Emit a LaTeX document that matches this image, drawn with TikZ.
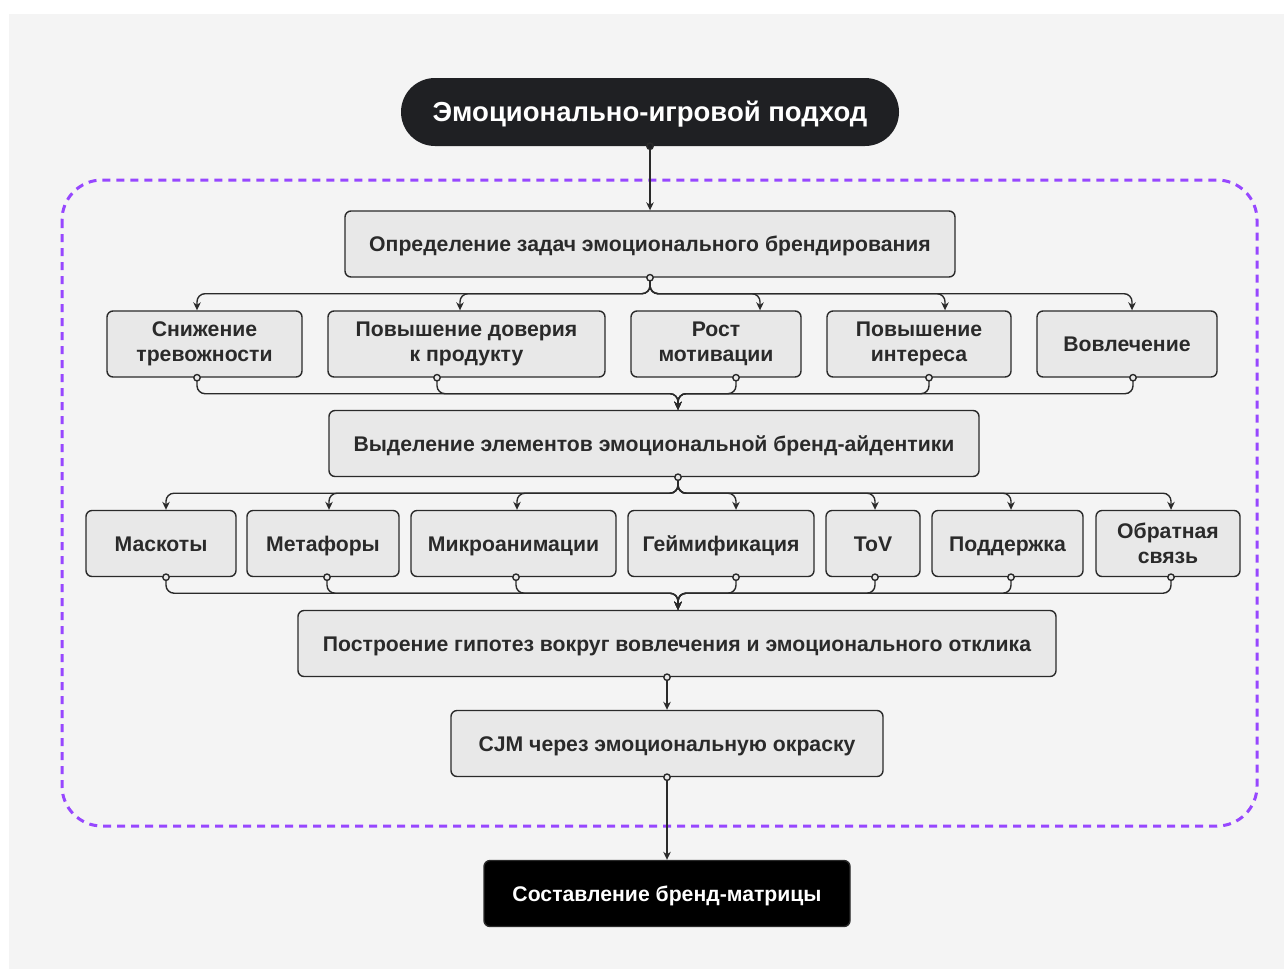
\documentclass[tikz,border=0pt]{standalone}
\usepackage{fontspec}
\setmainfont{Liberation Sans}
\usetikzlibrary{arrows.meta,calc}
\definecolor{bg}{HTML}{F4F4F4}
\definecolor{boxfill}{HTML}{E8E8E8}
\definecolor{ink}{HTML}{2A2A2A}
\definecolor{pill}{HTML}{1F2023}
\definecolor{purp}{HTML}{9747FF}
\begin{document}
\begin{tikzpicture}[x=1pt,y=-1pt,
 box/.style={draw=ink, line width=1.4pt, fill=boxfill, rounded corners=6pt, minimum height=66pt, inner sep=0pt, align=center, font=\bfseries\fontsize{21.2}{25}\selectfont, text=ink},
 one/.style={text height=19.5pt, text depth=4.5pt},
 darkbox/.style={box, one, draw=ink, fill=black, text=white},
 pillbox/.style={fill=pill, rounded corners=34pt, minimum width=498pt, minimum height=68pt, inner sep=0pt, font=\bfseries\fontsize{27.5}{32}\selectfont, text=white, text height=25pt, text depth=6pt},
 conn/.style={draw=ink, line width=1.4pt, rounded corners=8pt, -{Stealth[length=8pt,width=7.5pt,inset=2.5pt]}},
 dot/.style={draw=ink, line width=1.4pt, fill=boxfill},
]
\useasboundingbox (0,0) rectangle (1284,970);
\fill[white] (0,0) rectangle (1284,970);
\fill[bg] (9,14) rectangle (1284,969);
\draw[purp, line width=3pt, dash pattern=on 8pt off 6pt, rounded corners=40pt] (62,180) rectangle (1257,826);

% nodes
\node[pillbox] (top) at (650,112) {Эмоционально-игровой подход};
\node[box, one, minimum width=610pt] (b1) at (650,244) {Определение задач эмоционального брендирования};

\node[box, minimum width=195pt] (r1a) at (204.5,344) {Снижение\\тревожности};
\node[box, minimum width=277pt] (r1b) at (466.5,344) {Повышение доверия\\к продукту};
\node[box, minimum width=170pt] (r1c) at (716,344) {Рост\\мотивации};
\node[box, minimum width=184pt] (r1d) at (919,344) {Повышение\\интереса};
\node[box, one, minimum width=180pt] (r1e) at (1127,344) {Вовлечение};

\node[box, one, minimum width=650pt] (b2) at (654,443.5) {Выделение элементов эмоциональной бренд-айдентики};

\node[box, one, minimum width=150pt] (r2a) at (161,543.5) {Маскоты};
\node[box, one, minimum width=152pt] (r2b) at (323,543.5) {Метафоры};
\node[box, one, minimum width=205pt] (r2c) at (513.5,543.5) {Микроанимации};
\node[box, one, minimum width=186pt] (r2d) at (721,543.5) {Геймификация};
\node[box, one, minimum width=94pt] (r2e) at (873,543.5) {ToV};
\node[box, one, minimum width=151pt] (r2f) at (1007.5,543.5) {Поддержка};
\node[box, minimum width=144pt] (r2g) at (1168,543.5) {Обратная\\связь};

\node[box, one, minimum width=758pt] (b3) at (677,643.5) {Построение гипотез вокруг вовлечения и эмоционального отклика};
\node[box, one, minimum width=432pt] (b4) at (667,743.5) {CJM через эмоциональную окраску};
\node[darkbox, minimum width=366pt] (fin) at (667,893.5) {Составление бренд-матрицы};

% ports
\coordinate (top-o) at (top.south);
\coordinate (b1-o) at (b1.south);
\coordinate (r1a-i) at ([xshift=-7.5pt]r1a.north);
\coordinate (r1b-i) at ([xshift=-6.5pt]r1b.north);
\coordinate (r1c-i) at ([xshift=44pt]r1c.north);
\coordinate (r1d-i) at ([xshift=26pt]r1d.north);
\coordinate (r1e-i) at ([xshift=5pt]r1e.north);
\coordinate (r1a-o) at ([xshift=-7.5pt]r1a.south);
\coordinate (r1b-o) at ([xshift=-29.5pt]r1b.south);
\coordinate (r1c-o) at ([xshift=20pt]r1c.south);
\coordinate (r1d-o) at ([xshift=10pt]r1d.south);
\coordinate (r1e-o) at ([xshift=6pt]r1e.south);
\coordinate (b2-i) at ([xshift=24pt]b2.north);
\coordinate (b2-o) at ([xshift=24pt]b2.south);
\coordinate (r2a-i) at ([xshift=5pt]r2a.north);
\coordinate (r2b-i) at ([xshift=6pt]r2b.north);
\coordinate (r2c-i) at ([xshift=3.5pt]r2c.north);
\coordinate (r2d-i) at ([xshift=15pt]r2d.north);
\coordinate (r2e-i) at ([xshift=2pt]r2e.north);
\coordinate (r2f-i) at ([xshift=3.5pt]r2f.north);
\coordinate (r2g-i) at ([xshift=3pt]r2g.north);
\coordinate (r2a-o) at ([xshift=5pt]r2a.south);
\coordinate (r2b-o) at ([xshift=4pt]r2b.south);
\coordinate (r2c-o) at ([xshift=2.5pt]r2c.south);
\coordinate (r2d-o) at ([xshift=15pt]r2d.south);
\coordinate (r2e-o) at ([xshift=2pt]r2e.south);
\coordinate (r2f-o) at ([xshift=3.5pt]r2f.south);
\coordinate (r2g-o) at ([xshift=3pt]r2g.south);
\coordinate (b3-i) at ([xshift=1pt]b3.north);
\coordinate (b3-o) at ([xshift=-10pt]b3.south);
\coordinate (b4-o) at (b4.south);

% connectors
\draw[conn] (top-o) -- (b1.north);
\foreach \t in {r1a-i,r1b-i,r1c-i,r1d-i,r1e-i}
  \draw[conn] (b1-o) -- ++(0,16) -| (\t);
\foreach \s in {r1a-o,r1b-o,r1c-o,r1d-o,r1e-o}
  \draw[conn] (\s) -- ++(0,16) -| (b2-i);
\foreach \t in {r2a-i,r2b-i,r2c-i,r2d-i,r2e-i,r2f-i,r2g-i}
  \draw[conn] (b2-o) -- ++(0,16) -| (\t);
\foreach \s in {r2a-o,r2b-o,r2c-o,r2d-o,r2e-o,r2f-o,r2g-o}
  \draw[conn] (\s) -- ++(0,16) -| (b3-i);
\draw[conn] (b3-o) -- (b4.north);
\draw[conn] (b4-o) -- (fin.north);

% port dots
\foreach \p in {b1-o,r1a-o,r1b-o,r1c-o,r1d-o,r1e-o,b2-o,r2a-o,r2b-o,r2c-o,r2d-o,r2e-o,r2f-o,r2g-o,b3-o,b4-o}
  \draw[dot] (\p) circle (3.2pt);
\draw[dot, fill=pill] (top-o) circle (3.2pt);
\end{tikzpicture}
\end{document}
